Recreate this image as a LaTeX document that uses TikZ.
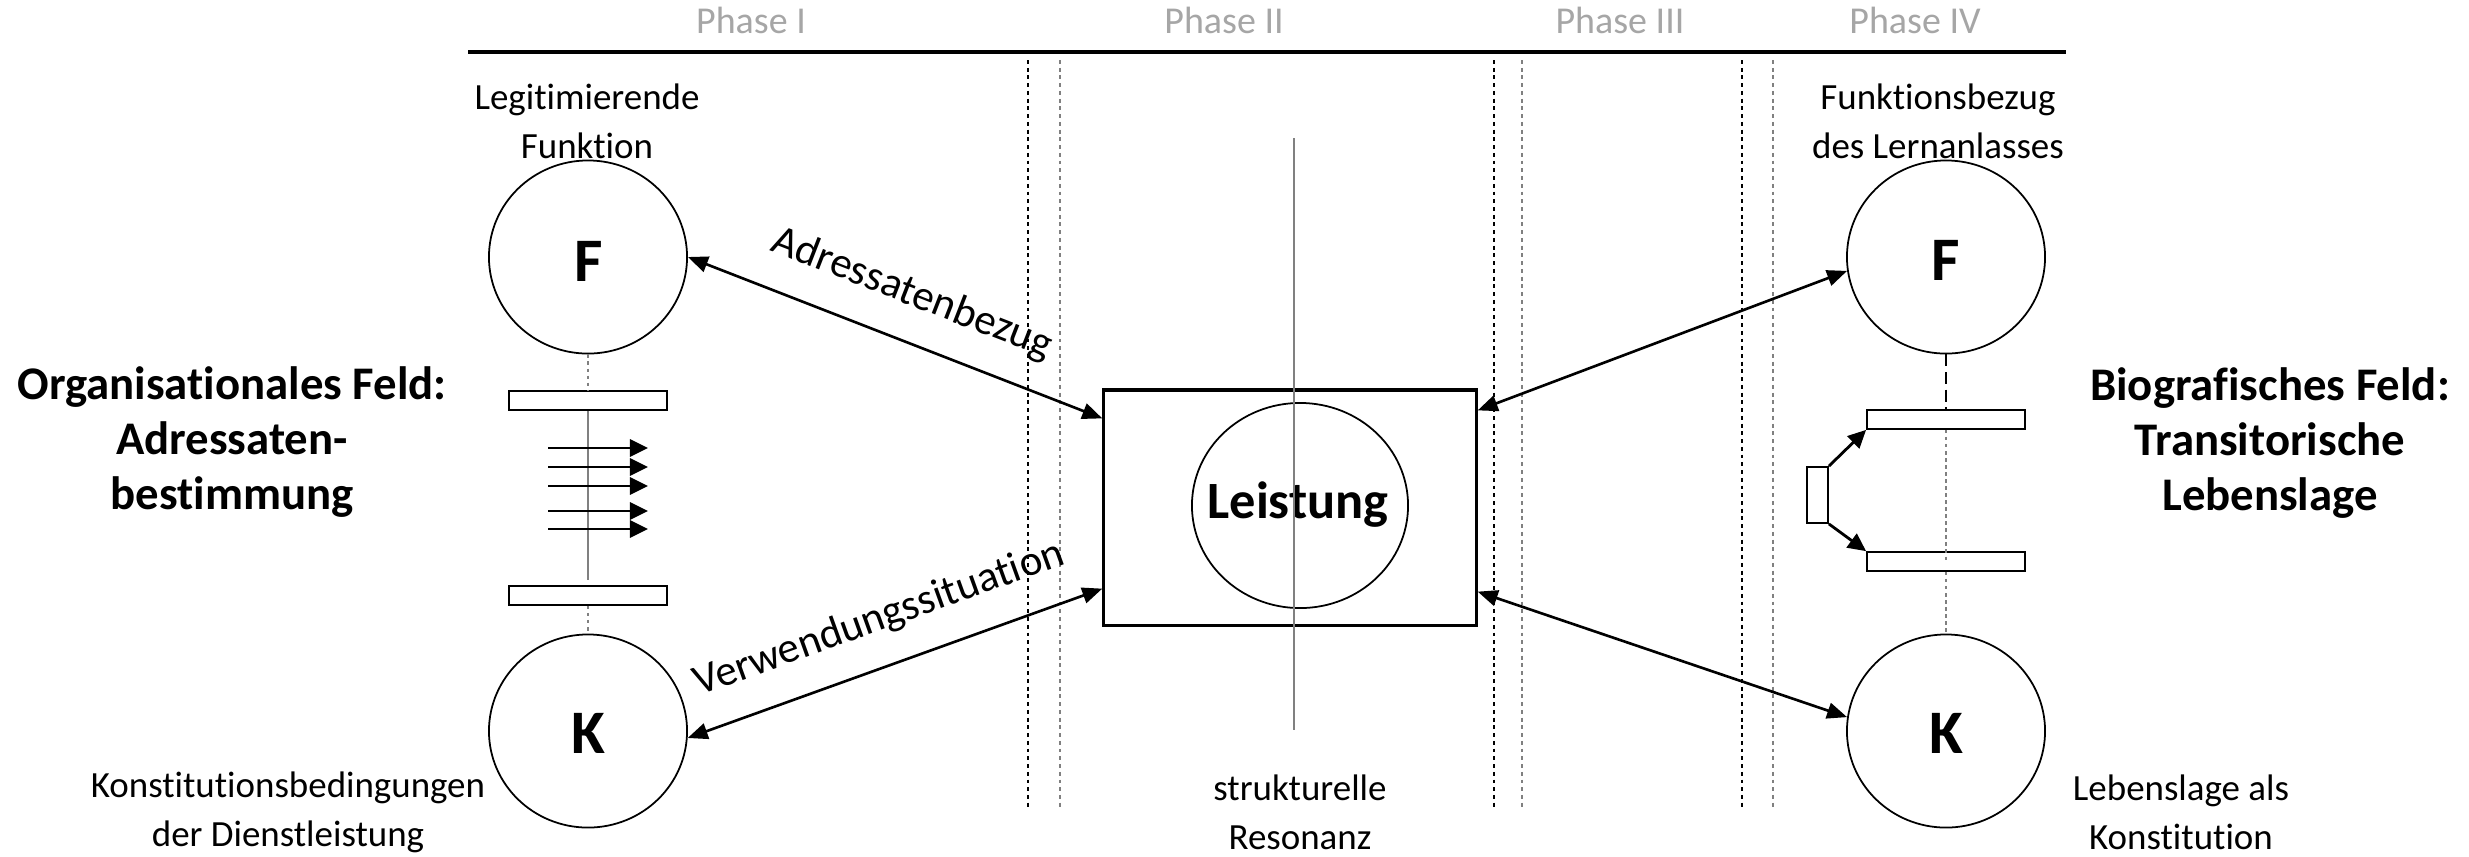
\documentclass[tikz,border=0pt]{standalone}
\usepackage{fontspec}
\setmainfont{Carlito}[Ligatures=CommonOff]
\usetikzlibrary{arrows.meta,shapes.geometric}
\definecolor{phasegray}{RGB}{166,166,166}
\definecolor{linegray}{RGB}{128,128,128}
\begin{document}
\begin{tikzpicture}[x=0.01cm, y=-0.01cm,
  plain/.style={font=\fontsize{10.5}{14}\selectfont, align=center, inner sep=0pt},
  field/.style={font=\fontsize{13.3}{15.7}\selectfont\bfseries, align=center, inner sep=0pt},
  phase/.style={font=\fontsize{10.8}{12}\selectfont, text=phasegray, inner sep=0pt, anchor=base},
  letter/.style={font=\fontsize{17.6}{20}\selectfont\bfseries, inner sep=0pt},
  ring/.style={ellipse, draw, line width=0.5pt, minimum width=1.98cm, minimum height=1.93cm, inner sep=0pt},
  bar/.style={rectangle, draw, line width=0.5pt, fill=white, inner sep=0pt},
  divider/.style={line width=0.4pt, dash pattern=on 1.1pt off 1.1pt},
  dotline/.style={linegray, line width=0.45pt, dash pattern=on 1pt off 1pt},
  link/.style={{Triangle[length=0.2cm,width=0.16cm]}-{Triangle[length=0.2cm,width=0.16cm]}, line width=0.75pt},
  flow/.style={-{Triangle[length=0.18cm,width=0.17cm]}, line width=0.8pt},
  linklabel/.style={font=\fontsize{12.2}{14}\selectfont, inner sep=0pt, sloped, above=0.27cm, midway},
]
\path[use as bounding box] (0,0) rectangle (2469,856);

% phase header
\coordinate (headL) at (468,52);
\coordinate (headR) at (2066,52);
\draw[line width=1.1pt] (headL) -- (headR);
\node[phase] (p1) at (751,33) {Phase I};
\node[phase] (p2) at (1224,33) {Phase II};
\node[phase] (p3) at (1620,33) {Phase III};
\node[phase] (p4) at (1915,33) {Phase IV};

% phase dividers
\foreach \xa/\xb in {1028/1060, 1494/1522, 1742/1773} {
  \draw[divider, black] (\xa,60) -- (\xa,810);
  \draw[divider, linegray] (\xb,60) -- (\xb,810);
}

% central performance box
\node[draw, line width=0.9pt, minimum width=3.72cm, minimum height=2.35cm, inner sep=0pt] (box) at (1290,507.5) {};
\node[ellipse, draw, line width=0.5pt, minimum width=2.16cm, minimum height=2.05cm, inner sep=0pt] (core) at (1300,505.5) {};
\node[font=\fontsize{14.9}{17}\selectfont\bfseries, inner sep=0pt] (perf) at (1298,505) {Leistung};
\coordinate (axisTop) at (1294,138);
\coordinate (axisBot) at (1294,730);
\draw[linegray, line width=0.45pt] (axisTop) -- (axisBot);

% circles F and K
\node[ring] (F1) at (588,257) {};
\node[ring] (K1) at (588,731) {};
\node[ring] (F2) at (1946,257) {};
\node[ring] (K2) at (1946,731) {};
\node[letter] (F1t) at (589,261) {F};
\node[letter] (K1t) at (588,733) {K};
\node[letter] (F2t) at (1946,260) {F};
\node[letter] (K2t) at (1946,733) {K};

% organisational field: bars, spine, flow arrows
\node[bar, minimum width=1.58cm, minimum height=0.19cm] (bar1) at (588,400.5) {};
\node[bar, minimum width=1.58cm, minimum height=0.19cm] (bar2) at (588,595.5) {};
\coordinate (spineEnd) at (588,580);
\draw[dotline] (F1.south) -- (bar1.north);
\draw[linegray, line width=0.45pt] (bar1.south) -- (spineEnd);
\draw[dotline] (bar2.south) -- (K1.north);
\foreach \i/\yy in {1/448,2/467,3/486,4/511,5/529} {
  \coordinate (fs\i) at (548,\yy);
  \coordinate (fe\i) at (648,\yy);
  \draw[flow] (fs\i) -- (fe\i);
}

% biographical field: bars, branching
\node[bar, minimum width=1.58cm, minimum height=0.19cm] (bar3) at (1946,419.5) {};
\node[bar, minimum width=1.58cm, minimum height=0.19cm] (bar4) at (1946,561.5) {};
\node[bar, minimum width=0.21cm, minimum height=0.56cm] (tab) at (1817.5,495) {};
\draw[line width=0.6pt, dash pattern=on 3.4pt off 1.6pt] (F2.south) -- (bar3.north);
\draw[dotline] (bar3.south) -- (bar4.center);
\draw[dotline] (bar4.south) -- (K2.north);
\draw[flow] (tab.north east) -- (bar3.south west);
\draw[flow] (tab.south east) -- (bar4.north west);

% links to the performance box
\draw[link] (F1.east) -- ([yshift=-0.30cm]box.north west) node[linklabel] (lab1) {Adressatenbezug};
\draw[link] (K1.-4) -- ([yshift=0.38cm]box.south west) node[linklabel] (lab2) {Verwendungssituation};
\draw[link] ([yshift=-0.22cm]box.north east) -- (F2.188);
\draw[link] ([yshift=0.35cm]box.south east) -- (K2.172);

% captions
\node[plain] (lf) at (587,121) {Legitimierende\\Funktion};
\node[plain] (rf) at (1938,121) {Funktionsbezug\\des Lernanlasses};
\node[plain] (lk) at (288,812) {Konstitutionsbedingungen\\der Dienstleistung};
\node[plain] (rk) at (2181,812) {Lebenslage als\\Konstitution};
\node[plain] (res) at (1300,812) {strukturelle\\Resonanz};
\node[field] (org) at (232,442) {Organisationales Feld:\\Adressaten-\\bestimmung};
\node[field] (bio) at (2270,443) {Biografisches Feld:\\Transitorische\\Lebenslage};
\end{tikzpicture}
\end{document}
